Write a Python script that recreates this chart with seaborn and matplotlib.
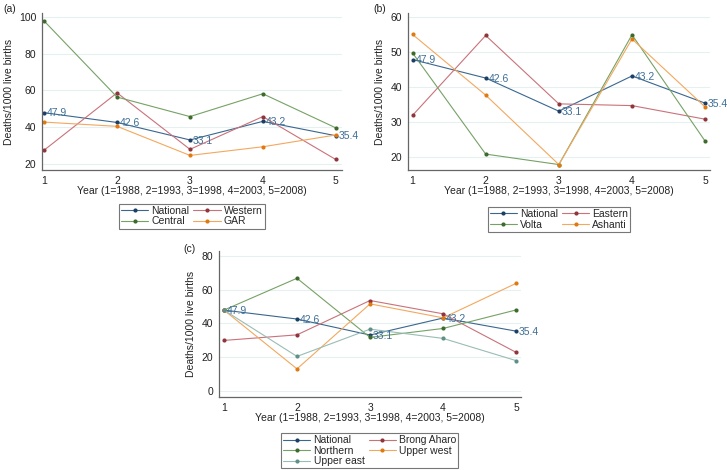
import matplotlib
matplotlib.use("Agg")
from matplotlib import pyplot as plt
import seaborn as sns

years = [1, 2, 3, 4, 5]
national = [47.9, 42.6, 33.1, 43.2, 35.4]

# panel (a)
western = [27.6, 58.7, 28.0, 45.8, 22.5]
central = [97.7, 56.4, 45.8, 58.2, 39.7]
gar = [42.8, 40.5, 24.7, 29.4, 35.8]

# panel (b)
eastern = [31.9, 54.8, 35.2, 34.7, 30.8]
volta = [49.8, 20.8, 17.8, 55.0, 24.5]
ashanti = [55.1, 37.7, 17.8, 53.8, 34.3]

# panel (c)
brong_aharo = [29.9, 33.2, 53.6, 45.7, 22.8]
northern = [47.9, 66.8, 31.7, 37.0, 48.0]
upper_west = [47.9, 13.0, 51.6, 43.3, 63.8]
upper_east = [47.9, 20.4, 36.6, 31.1, 17.9]

xlabel = "Year (1=1988, 2=1993, 3=1998, 4=2003, 5=2008)"
ylabel = "Deaths/1000 live births"

# (line colour, marker colour)
c_nat = ("#3a6790", "#1c3f66")
c_red = ("#c9727a", "#90353b")
c_grn = ("#76a266", "#3d6b2c")
c_org = ("#f3a85e", "#e07a10")
c_teal = ("#98bdb4", "#5f8f86")

sns.set_style("white")
plt.rcParams["font.family"] = ["Liberation Sans", "DejaVu Sans"]
plt.rcParams["font.size"] = 7.5

fig = plt.figure(figsize=(7.27, 4.70), dpi=100)
ax_a = fig.add_axes([0.0578, 0.638, 0.412, 0.334])
ax_b = fig.add_axes([0.561, 0.638, 0.416, 0.334])
ax_c = fig.add_axes([0.301, 0.156, 0.415, 0.310])


def draw(ax, series, ylim, yticks, xlim, tag, tagxy, order, legy):
    for name, vals, col in series:
        sns.lineplot(x=years, y=vals, ax=ax, color=col[0], lw=0.8,
                     marker="o", markersize=3, mfc=col[1], mec=col[1],
                     mew=0, label=name)
    for x, v in zip(years, national):
        ax.annotate(f"{v}", (x, v), xytext=(2, -0.5), textcoords="offset points",
                    va="center", ha="left", color="#3e6e96", fontsize=7.5)
    ax.set_xlim(*xlim)
    ax.set_ylim(*ylim)
    ax.set_xticks(years)
    ax.set_yticks(yticks)
    ax.yaxis.grid(True, color="#e6f0f1", lw=0.8)
    ax.set_axisbelow(True)
    for s in ["top", "right"]:
        ax.spines[s].set_visible(False)
    for s in ["left", "bottom"]:
        ax.spines[s].set_color("#666666")
        ax.spines[s].set_linewidth(0.9)
    ax.tick_params(axis="both", direction="out", length=3, width=0.8,
                   color="#666666", labelsize=7.5, labelcolor="#222222", pad=1.5)
    ax.tick_params(axis="y", pad=1)
    ax.set_xlabel(xlabel, fontsize=7.5, color="#222222", labelpad=0)
    ax.set_ylabel(ylabel, fontsize=7.5, color="#222222", labelpad=4)
    handles, labels = ax.get_legend_handles_labels()
    handles = [handles[i] for i in order]
    labels = [labels[i] for i in order]
    leg = ax.legend(handles, labels, ncol=2, loc="upper center",
                    bbox_to_anchor=(0.5, legy), fontsize=7.5, frameon=True,
                    fancybox=False, edgecolor="#555555", handlelength=2.6,
                    handletextpad=0.3, columnspacing=0.4, labelspacing=0.05,
                    borderpad=0.2, borderaxespad=0)
    leg.get_frame().set_linewidth(0.8)
    fig.text(tagxy[0], tagxy[1], tag, fontsize=7.5, color="#222222")


draw(ax_a,
     [("National", national, c_nat), ("Western", western, c_red),
      ("Central", central, c_grn), ("GAR", gar, c_org)],
     (16.7, 102), [20, 40, 60, 80, 100], (0.97, 5.08), "(a)", (0.004, 0.975),
     [0, 2, 1, 3], -0.215)

draw(ax_b,
     [("National", national, c_nat), ("Eastern", eastern, c_red),
      ("Volta", volta, c_grn), ("Ashanti", ashanti, c_org)],
     (16.2, 61.2), [20, 30, 40, 50, 60], (0.936, 5.07), "(b)", (0.513, 0.975),
     [0, 2, 1, 3], -0.235)

draw(ax_c,
     [("National", national, c_nat), ("Brong Aharo", brong_aharo, c_red),
      ("Northern", northern, c_grn), ("Upper west", upper_west, c_org),
      ("Upper east", upper_east, c_teal)],
     (-3.5, 83), [0, 20, 40, 60, 80], (0.93, 5.06), "(c)", (0.252, 0.463),
     [0, 2, 4, 1, 3], -0.25)

fig.savefig("out.png", dpi=100)
